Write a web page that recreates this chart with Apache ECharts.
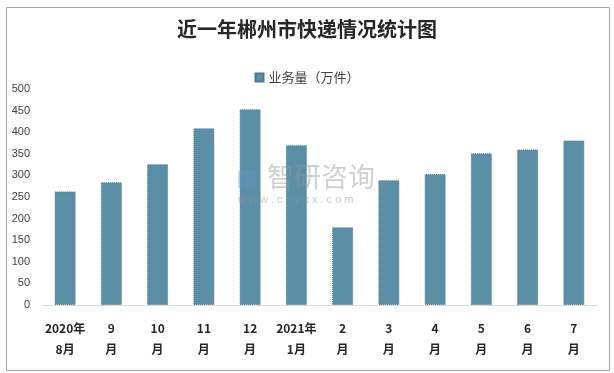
<!DOCTYPE html>
<html><head><meta charset="utf-8">
<script src="https://cdn.jsdelivr.net/npm/echarts@6/dist/echarts.min.js"></script>
<style>html,body{margin:0;padding:0;background:#fff}#c{width:614px;height:373px}</style>
</head><body><div id="c"></div>
<script>
var categories = ['2020年\n8月','9\n月','10\n月','11\n月','12\n月','2021年\n1月','2\n月','3\n月','4\n月','5\n月','6\n月','7\n月'];
var values = [263, 284, 326, 409, 453, 370, 180, 289, 303, 351, 360, 381];
var seriesName = '业务量（万件）';
var titleText = '近一年郴州市快递情况统计图';

var chart = echarts.init(document.getElementById('c'), null, {renderer:'canvas'});
chart.setOption({
  animation:false,
  backgroundColor:'#fff',
  title:{text:titleText,left:'center',top:14,textStyle:{fontFamily:'Noto Sans CJK SC',fontSize:20,fontWeight:'bold',color:'#262626'}},
  legend:{data:[seriesName],top:66,left:'center',itemWidth:8,itemHeight:8,itemGap:4,icon:'rect',textStyle:{fontFamily:'Noto Sans CJK SC',fontSize:13,color:'#404040'}},
  grid:{left:42,right:17,top:89,bottom:68},
  xAxis:{type:'category',data:categories,axisLine:{lineStyle:{color:'#d9d9d9'}},axisTick:{show:false},
    axisLabel:{interval:0,margin:13,fontFamily:'Noto Sans CJK SC',fontSize:12,fontWeight:'bold',color:'#262626',lineHeight:21}},
  yAxis:{type:'value',min:0,max:500,interval:50,splitLine:{show:false},axisLine:{show:false},axisTick:{show:false},
    axisLabel:{margin:12,fontFamily:'Liberation Sans',fontSize:11,color:'#404040'}},
  series:[{name:seriesName,type:'bar',data:values,barWidth:21,
    itemStyle:{color:'#5b8fa6',borderColor:'#4a7b93',borderWidth:1,borderType:'dotted'}}],
  graphic:[
    {type:'rect',left:4,top:5,shape:{width:603,height:363},style:{fill:'none',stroke:'#a6a6a6',lineWidth:1},silent:true,z:-1},
    {type:'rect',left:238,top:170,shape:{width:18,height:19,r:3},style:{fill:'rgba(110,150,200,0.35)'},z:100},
    {type:'text',left:267,top:163,style:{text:'智研咨询',fontFamily:'Noto Sans CJK SC',fontSize:27,fill:'rgba(150,150,150,0.45)'},z:100},
    {type:'text',left:238,top:194,style:{text:'w w w . c h y x x . c o m',fontFamily:'Liberation Sans',fontSize:11,fill:'rgba(150,150,150,0.5)'},z:100}
  ]
});
</script></body></html>
